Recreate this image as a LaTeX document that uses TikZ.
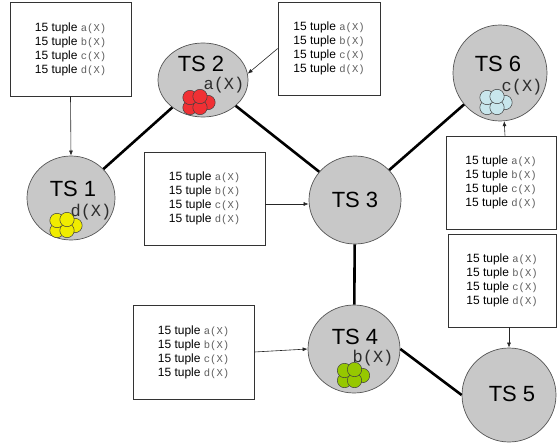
\documentclass[tikz,border=0pt]{standalone}
\usepackage{fontspec}
\setmainfont{Liberation Sans}
\newfontfamily\monof{Liberation Mono}
\usetikzlibrary{shapes.geometric,arrows.meta}

\definecolor{tsfill}{RGB}{200,200,200}
\definecolor{tsline}{RGB}{85,85,85}
\definecolor{monogray}{RGB}{95,95,95}
\definecolor{labgray}{RGB}{45,45,45}
\definecolor{ballred}{RGB}{240,48,52}
\definecolor{ballyellow}{RGB}{240,236,0}
\definecolor{ballblue}{RGB}{200,230,236}
\definecolor{ballgreen}{RGB}{150,200,0}

% one line of a tuple list: sans count, mono tuple name
\newcommand\tupleline[1]{15 tuple {\monof\fontsize{10.5}{14}\selectfont\color{monogray}#1(X)}}
\newcommand\tuplelist{\tupleline{a}\\\tupleline{b}\\\tupleline{c}\\\tupleline{d}}

% a small bunch of tuples drawn as balls around (#1,#2)
\newcommand\tuplebunch[3]{%
  \foreach \dx/\dy in {13/1,-5/6,5/6,-5/-4,5/-5}
    \draw[ball, fill=#3] (#1+\dx,#2+\dy) circle (7.2);%
}

\begin{document}
\begin{tikzpicture}[x=1pt,y=-1pt,
  space/.style={ellipse, draw=tsline, line width=0.7pt, fill=tsfill, inner sep=0pt},
  tslabel/.style={font=\fontsize{22}{24}\selectfont, inner sep=0pt},
  tuplelabel/.style={font=\monof\fontsize{17}{19}\selectfont, text=labgray, inner sep=0pt},
  listbox/.style={draw=black!80, line width=0.6pt, fill=white, align=left,
    font=\fontsize{12}{14}\selectfont, inner sep=0pt},
  link/.style={line width=2.6pt, black},
  feed/.style={line width=0.6pt, black!85, -{Latex[length=5pt,width=4pt]}},
  ball/.style={draw=black!75, line width=0.5pt}]

\useasboundingbox (0,0) rectangle (557,444);

% tuple spaces
\node[space, minimum width=88, minimum height=84] (ts1) at (71,198) {};
\node[space, minimum width=90, minimum height=74] (ts2) at (203,80) {};
\node[space, minimum width=92, minimum height=88] (ts3) at (355,200) {};
\node[space, minimum width=92, minimum height=88] (ts4) at (354,349) {};
\node[space, minimum width=94, minimum height=94] (ts5) at (509,395) {};
\node[space, minimum width=94, minimum height=96] (ts6) at (500,73) {};

% links between the spaces
\draw[link] (ts1) -- (ts2);
\draw[link] (ts2) -- (ts3);
\draw[link] (ts3) -- (ts6);
\draw[link] (ts3) -- (ts4);
\draw[link] (ts4.east) -- (ts5.west);

% names and held tuples
\node[tslabel] (l1) at (73,189) {TS 1};
\node[tuplelabel] (t1) at (91,212) {d(X)};
\tuplebunch{62}{224.5}{ballyellow}

\node[tslabel] (l2) at (201,64) {TS 2};
\node[tuplelabel] (t2) at (224,85) {a(X)};
\tuplebunch{195}{101.5}{ballred}

\node[tslabel] (l3) at (355,200) {TS 3};

\node[tslabel] (l4) at (355,337) {TS 4};
\node[tuplelabel] (t4) at (373,358) {b(X)};
\tuplebunch{349.5}{374.5}{ballgreen}

\node[tslabel] (l5) at (512,394) {TS 5};

\node[tslabel] (l6) at (498,64) {TS 6};
\node[tuplelabel] (t6) at (522,87) {c(X)};
\tuplebunch{492}{101.5}{ballblue}

% tuple lists
\node[listbox, minimum width=121, minimum height=94] (b1) at (70.5,49) {\tuplelist};
\node[listbox, minimum width=102, minimum height=93] (b2) at (329,48.5) {\tuplelist};
\node[listbox, minimum width=121, minimum height=93] (b3) at (204.5,198.5) {\tuplelist};
\node[listbox, minimum width=121, minimum height=94] (b4) at (193.5,352) {\tuplelist};
\node[listbox, minimum width=110, minimum height=93] (b6) at (501,182.5) {\tuplelist};
\node[listbox, minimum width=108, minimum height=93] (b5) at (502,280.5) {\tuplelist};

% lists fed into the spaces
\draw[feed] (b1.south) -- (ts1.north);
\draw[feed] (b2.west) -- (ts2.8);
\draw[feed] ([yshift=-5.5pt]b3.east) -- ([yshift=-4pt]ts3.west);
\draw[feed] (b4.east) -- (ts4.west);
\draw[feed] ([xshift=4pt]b6.north) -- (ts6.-85);
\draw[feed] ([xshift=7pt]b5.south) -- (ts5.north);
\end{tikzpicture}
\end{document}
